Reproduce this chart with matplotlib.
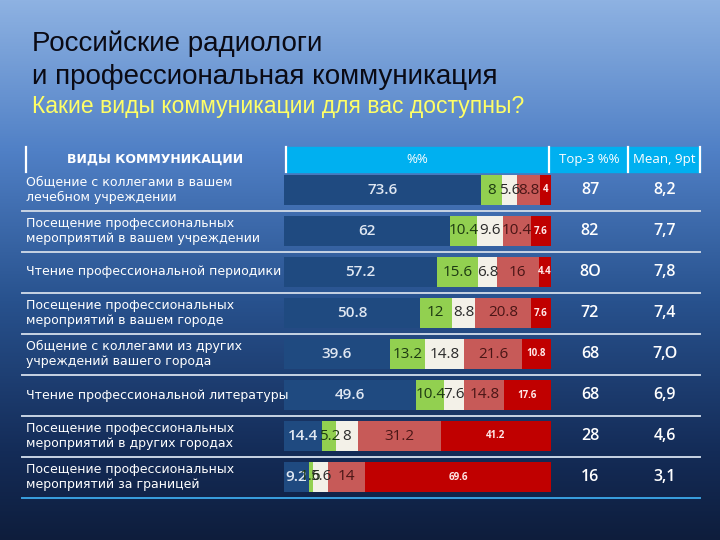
import matplotlib
matplotlib.use("Agg")
import matplotlib.pyplot as plt
import numpy as np

# -------------------------
# Data
# -------------------------
categories = [
    "Общение с коллегами в вашем\nлечебном учреждении",
    "Посещение профессиональных\nмероприятий в вашем учреждении",
    "Чтение профессиональной периодики",
    "Посещение профессиональных\nмероприятий в вашем городе",
    "Общение с коллегами из других\nучреждений вашего города",
    "Чтение профессиональной литературы",
    "Посещение профессиональных\nмероприятий в других городах",
    "Посещение профессиональных\nмероприятий за границей",
]
seg_top = [73.6, 62, 57.2, 50.8, 39.6, 49.6, 14.4, 9.2]
seg_pos = [8, 10.4, 15.6, 12, 13.2, 10.4, 5.2, 1.6]
seg_mid = [5.6, 9.6, 6.8, 8.8, 14.8, 7.6, 8, 5.6]
seg_neg = [8.8, 10.4, 16, 20.8, 21.6, 14.8, 31.2, 14]
seg_low = [4, 7.6, 4.4, 7.6, 10.8, 17.6, 41.2, 69.6]
top3 = ["87", "82", "8O", "72", "68", "68", "28", "16"]
mean9 = ["8,2", "7,7", "7,8", "7,4", "7,O", "6,9", "4,6", "3,1"]

headers = ["ВИДЫ КОММУНИКАЦИИ", "%%", "Top-3 %%", "Mean, 9pt"]

seg_colors = ["#1f4a80", "#92d050", "#f3f1e8", "#c75a58", "#c00000"]
seg_text = ["#dfe7f2", "#1d3a12", "#2a2a2a", "#4a1616", "#ffe8e8"]

# -------------------------
# Figure and background
# -------------------------
W, H = 720, 540
fig = plt.figure(figsize=(7.2, 5.4), dpi=100)

bg = fig.add_axes([0, 0, 1, 1])
bg.set_xlim(0, W)
bg.set_ylim(H, 0)
bg.axis("off")

stops_y = [0, 150, 300, 450, 540]
stops_c = np.array([[142, 178, 226], [80, 128, 198], [40, 82, 142], [20, 44, 88], [14, 29, 60]]) / 255
yy = np.arange(H)
grad = np.stack([np.interp(yy, stops_y, stops_c[:, k]) for k in range(3)], axis=1)
img = np.repeat(grad[:, None, :], 2, axis=1)
bg.imshow(img, extent=[0, W, H, 0], aspect="auto", zorder=0)

title_font = ["Liberation Sans", "DejaVu Sans"]
bg.text(32, 44, "Российские радиологи", fontsize=20, color="#0a0a14",
        family=title_font, va="center", ha="left")
bg.text(32, 77, "и профессиональная коммуникация", fontsize=20, color="#0a0a14",
        family=title_font, va="center", ha="left")
bg.text(32, 106, "Какие виды коммуникации для вас доступны?", fontsize=16.5, color="#ffff66",
        family=title_font, va="center", ha="left")

# header band
bg.add_patch(plt.Rectangle((287, 147), 413, 25, color="#00b0f0", zorder=1))
for xv in [26, 286, 549, 628, 700]:
    bg.plot([xv, xv], [147, 172], color="white", lw=1.6, zorder=2)
bg.text(155, 159.5, headers[0], fontsize=9, color="white", fontweight="bold",
        family="DejaVu Sans", ha="center", va="center", zorder=3)
bg.text(417, 159.5, headers[1], fontsize=9.5, color="white", family="Open Sans",
        ha="center", va="center", zorder=3)
bg.text(589, 159.5, headers[2], fontsize=9.5, color="white", family="Open Sans",
        ha="center", va="center", zorder=3)
bg.text(664, 159.5, headers[3], fontsize=9.5, color="white", family="Open Sans",
        ha="center", va="center", zorder=3)

# -------------------------
# Bars
# -------------------------
x0, x1 = 284, 551
row0, step = 190, 41
n = len(categories)
ax = fig.add_axes([x0 / W, 1 - (row0 - step / 2 + step * n) / H,
                   (x1 - x0) / W, step * n / H])
ax.set_xlim(0, 100)
ax.set_ylim(n - 0.5, -0.5)
ax.axis("off")
ax.patch.set_alpha(0)

px = 100 / (x1 - x0)  # data units per pixel
y = np.arange(n)
segments = [seg_top, seg_pos, seg_mid, seg_neg, seg_low]
weights = ["semibold", "normal", "normal", "normal", "bold"]
left = np.zeros(n)
for k, vals in enumerate(segments):
    vals = np.array(vals, dtype=float)
    ax.barh(y, vals, left=left, height=0.72, color=seg_colors[k], edgecolor="none", zorder=2)
    for i in range(n):
        v = vals[i]
        ax.text(left[i] + v / 2, i, f"{v:g}", ha="center", va="center",
                fontsize=7 if k == 4 else 11, color=seg_text[k],
                fontweight=weights[k], family="Open Sans", zorder=3)
    left += vals

for i in range(n):
    ax.text((26 - x0) * px, i, categories[i], ha="left", va="center", fontsize=9,
            color="white", family="DejaVu Sans", linespacing=1.25, clip_on=False)
    ax.text((590 - x0) * px, i, top3[i], ha="center", va="center", fontsize=11.5,
            color="white", family="Open Sans", fontweight="semibold", clip_on=False)
    ax.text((665 - x0) * px, i, mean9[i], ha="center", va="center", fontsize=11.5,
            color="white", family="Open Sans", fontweight="semibold", clip_on=False)

# row separators
for i in range(n):
    col = "#3aa0e0" if i == n - 1 else "#c8d4e4"
    ax.plot([(22 - x0) * px, (700 - x0) * px], [i + 0.5, i + 0.5], color=col,
            lw=1.4, clip_on=False, zorder=1)

fig.savefig("out.png", dpi=100)
